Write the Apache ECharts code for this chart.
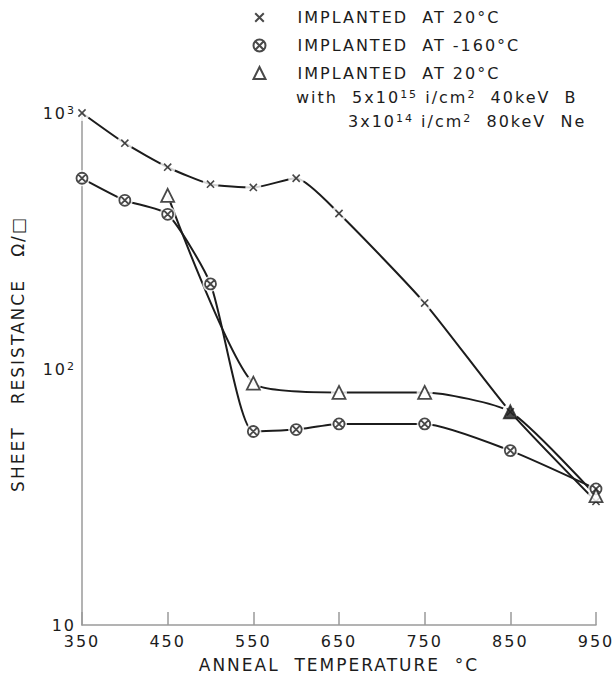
<!DOCTYPE html>
<html>
<head>
<meta charset="utf-8">
<script src="https://cdn.jsdelivr.net/npm/echarts@6/dist/echarts.min.js"></script>
<style>
  html, body { margin: 0; padding: 0; background: #fff; }
  #main { width: 615px; height: 682px; }
  /* the original lettering is widely spaced */
  #main svg text { letter-spacing: 2px; }
</style>
</head>
<body>
<div id="main"></div>
<script>
  // anneal temperatures (categories) and sheet resistance, ohm/sq
  var temps = ['350', '400', '450', '500', '550', '600', '650', '700', '750', '800', '850', '900', '950'];

  var rtTemps = ['350', '400', '450', '500', '550', '600', '650', '750', '850', '950'];
  var rtValues = [1000, 762, 614, 527, 512, 556, 405, 181, 68, 30.4];

  var coldTemps = ['350', '400', '450', '500', '550', '600', '650', '750', '850', '950'];
  var coldValues = [556, 456, 402, 215, 57, 58, 61, 61, 48, 34];

  var preTemps = ['450', '550', '650', '750', '850', '950'];
  var preValues = [477, 88, 81, 81, 68, 32];

  var legendNames = {
    rt: 'IMPLANTED  AT 20°C',
    cold: 'IMPLANTED  AT -160°C',
    pre: 'IMPLANTED  AT 20°C'
  };

  var yTicks = { 10: '10', 100: '10{sup|2}', 1000: '10{sup|3}' };

  var ink = '#1c1c1c';
  var font = 'DejaVu Sans';
  var LS = 2; // letter spacing set in the css above

  function pairs(xs, ys) {
    return xs.map(function (x, i) { return [x, ys[i]]; });
  }

  // rich text pieces: each piece is pushed right by the spacing the
  // browser adds to the pieces before it
  function richLine(parts) {
    var text = '', rich = {}, shift = 0;
    parts.forEach(function (p, i) {
      var key = 't' + i;
      rich[key] = {
        fontSize: p[1] ? 11 : 16,
        fontFamily: font,
        fill: ink,
        verticalAlign: p[1] ? 'top' : 'bottom',
        padding: [0, 0, 0, shift]
      };
      text += '{' + key + '|' + p[0] + '}';
      shift = LS * p[0].length;
    });
    return { text: text, rich: rich };
  }

  var note1 = richLine([['with  5x10'], ['15', 1], [' i/cm'], ['2', 1], ['  40keV  B']]);
  var note2 = richLine([['3x10'], ['14', 1], [' i/cm'], ['2', 1], ['  80keV  Ne']]);

  // extra move-to points pad the cross so it draws smaller than its box
  var symX = 'path://M-2,-2M0,0L10,10M10,0L0,10M12,12';
  var symO = 'path://M10,0A10,10,0,1,1,10,20A10,10,0,1,1,10,0Z M3,3L17,17M17,3L3,17';

  var myChart = echarts.init(document.getElementById('main'), null, { renderer: 'svg' });

  var preData = pairs(preTemps, preValues).map(function (p) {
    if (p[0] === '850') return { value: p, itemStyle: { color: ink } };
    return p;
  });

  var lineStyle = { color: ink, width: 2 };

  var option = {
    animation: false,
    backgroundColor: '#fff',
    textStyle: { fontFamily: font, color: ink },
    grid: { left: 82, right: 19, top: 113, bottom: 57 },
    legend: {
      data: ['rt', 'cold', 'pre'],
      orient: 'vertical',
      left: 251,
      top: 9,
      padding: 0,
      itemGap: 11.5,
      itemWidth: 12,
      itemHeight: 12,
      formatter: function (n) { return legendNames[n]; },
      textStyle: { fontSize: 16, color: ink, fontFamily: font, padding: [0, 0, 0, 27] }
    },
    xAxis: {
      type: 'category',
      data: temps,
      boundaryGap: false,
      name: 'ANNEAL  TEMPERATURE  °C',
      nameLocation: 'middle',
      nameGap: 31,
      nameTextStyle: { fontSize: 17, color: ink },
      axisLine: { lineStyle: { color: '#9a9a9a', width: 1.5 } },
      axisTick: { inside: true, length: 13, interval: 1, lineStyle: { color: '#9a9a9a', width: 1.5 } },
      axisLabel: { interval: 1, fontSize: 16, color: ink, margin: 8 },
      splitLine: { show: false }
    },
    yAxis: {
      type: 'log',
      logBase: 10,
      min: 10,
      max: 1000,
      name: 'SHEET   RESISTANCE   Ω/□',
      nameLocation: 'middle',
      nameGap: 56,
      nameTextStyle: { fontSize: 17, color: ink, padding: [0, 0, 0, 30] },
      axisLine: { show: true, lineStyle: { color: '#9a9a9a', width: 1.5 } },
      axisTick: { inside: true, length: 12, lineStyle: { color: '#9a9a9a', width: 1.5 } },
      axisLabel: {
        fontSize: 16,
        color: ink,
        margin: 6,
        formatter: function (v) { return yTicks[Math.round(v)] || ''; },
        rich: { sup: { fontSize: 11, verticalAlign: 'top', padding: [0, 0, 0, LS], color: ink } }
      },
      splitLine: { show: false },
      minorTick: { show: false }
    },
    graphic: [
      { type: 'text', left: 296, top: 89, style: { text: note1.text, rich: note1.rich, font: '16px ' + font, fill: ink } },
      { type: 'text', left: 348, top: 113, style: { text: note2.text, rich: note2.rich, font: '16px ' + font, fill: ink } }
    ],
    series: [
      // curves
      { name: 'rtLine', type: 'line', smooth: 0.2, showSymbol: false, z: 2, lineStyle: lineStyle, data: pairs(rtTemps, rtValues) },
      { name: 'coldLine', type: 'line', smooth: 0.2, showSymbol: false, z: 2, lineStyle: lineStyle, data: pairs(coldTemps, coldValues) },
      { name: 'preLine', type: 'line', smooth: 0.2, showSymbol: false, z: 2, lineStyle: lineStyle, data: pairs(preTemps, preValues) },
      // white gaps round the points
      {
        name: 'gap', type: 'scatter', silent: true, z: 3, symbol: 'circle', symbolSize: 16,
        itemStyle: { color: '#fff' },
        data: pairs(rtTemps, rtValues).concat(pairs(coldTemps, coldValues), pairs(preTemps, preValues))
      },
      // markers
      {
        name: 'rt', type: 'scatter', z: 4, symbol: symX, symbolSize: 10,
        itemStyle: { color: 'none', borderColor: ink, borderWidth: 1.6 },
        data: pairs(rtTemps, rtValues)
      },
      {
        name: 'cold', type: 'scatter', z: 4, symbol: symO, symbolSize: 11,
        itemStyle: { color: '#fff', borderColor: ink, borderWidth: 1.8 },
        data: pairs(coldTemps, coldValues)
      },
      {
        name: 'pre', type: 'scatter', z: 4, symbol: 'triangle', symbolSize: 13,
        itemStyle: { color: '#fff', borderColor: ink, borderWidth: 1.8 },
        data: preData
      }
    ]
  };

  myChart.setOption(option);
</script>
</body>
</html>
